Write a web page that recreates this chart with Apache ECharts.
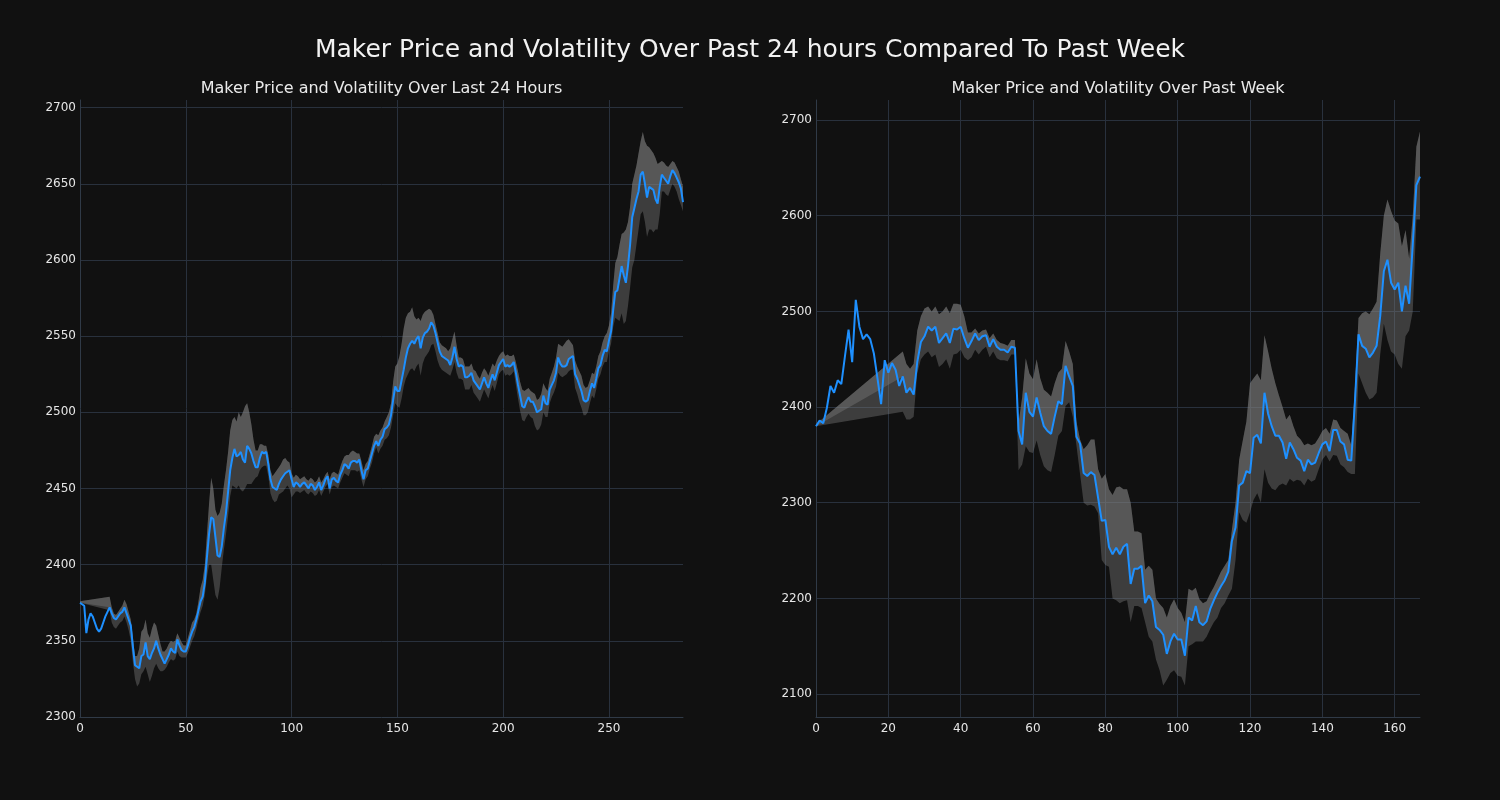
<!DOCTYPE html>
<html>
<head>
<meta charset="utf-8">
<script src="https://cdn.jsdelivr.net/npm/echarts@6/dist/echarts.min.js"></script>
<style>html,body{margin:0;padding:0;background:#111111;}#c{width:1500px;height:800px;}</style>
</head>
<body>
<div id="c"></div>
<script>
const mainTitle = 'Maker Price and Volatility Over Past 24 hours Compared To Past Week';
const dayTitle = 'Maker Price and Volatility Over Last 24 Hours';
const weekTitle = 'Maker Price and Volatility Over Past Week';

const N13 = [null,null,null,null,null,null,null,null,null,null,null,null,null];
const N23 = [null,null,null,null,null,null,null,null,null,null,null,null,null,null,null,null,null,null,null,null,null,null,null];

// Last 24 hours (index of 5-minute step)
const dayPrice = [2375,2374,2373,2355,2364,2368,2366,2362,2358,2356,
2358,2362,2366,2369,2372,2368,2365,2364,2366,2368,
2369,2372,2368,2364,2360,2346,2334,2333,2332,2340,
2341,2349,2340,2338,2342,2345,2350,2345,2341,2338,
2335,2338,2341,2345,2343,2342,2351,2347,2344,2343,
2343,2347,2352,2356,2359,2364,2370,2376,2379,2388,
2405,2420,2431,2430,2418,2406,2405,2412,2424,2434,
2448,2462,2470,2476,2471,2472,2474,2469,2467,2478,
2476,2473,2468,2464,2464,2470,2474,2473,2474,2466,
2456,2451,2450,2449,2453,2456,2458,2460,2461,2462,
2456,2451,2454,2453,2451,2453,2454,2452,2450,2453,
2452,2449,2451,2454,2449,2452,2456,2458,2450,2456,
2457,2455,2454,2459,2462,2466,2465,2463,2467,2468,
2468,2467,2469,2462,2456,2462,2463,2468,2473,2478,
2481,2478,2482,2484,2489,2490,2492,2498,2508,2517,
2514,2514,2521,2528,2536,2542,2545,2547,2545,2548,
2550,2542,2549,2552,2553,2555,2559,2557,2552,2546,
2540,2537,2536,2535,2534,2531,2536,2543,2535,2530,
2531,2530,2523,2523,2524,2526,2521,2519,2517,2515,
2519,2523,2519,2516,2521,2525,2521,2526,2531,2533,
2535,2530,2531,2530,2531,2533,2526,2518,2511,2504,
2503,2507,2510,2507,2507,2504,2500,2501,2502,2511,
2506,2505,2515,2518,2521,2526,2536,2532,2530,2530,
2531,2535,2536,2537,2525,2522,2518,2514,2508,2507,
2508,2514,2519,2516,2522,2529,2531,2537,2541,2540,
2547,2553,2567,2579,2580,2588,2596,2590,2585,2596,
2610,2628,2634,2640,2645,2656,2658,2650,2641,2648,
2647,2646,2640,2637,2648,2656,2654,2652,2650,2655,
2659,2657,2654,2651,2647,2638];

const dayUpper = [2376].concat(N13, [2379,2372,2368,2367,2369,2371,
2373,2377,2374,2369,2364,2352,2340,2340,2345,2356,
2358,2364,2355,2352,2358,2362,2360,2354,2348,2343,
2343,2345,2348,2350,2349,2350,2355,2352,2349,2347,
2347,2352,2357,2362,2364,2368,2376,2385,2390,2400,
2420,2440,2457,2450,2436,2432,2434,2440,2452,2462,
2474,2488,2495,2497,2494,2500,2497,2500,2504,2506,
2500,2492,2482,2475,2475,2479,2479,2478,2478,2472,
2462,2458,2460,2462,2464,2466,2469,2470,2468,2467,
2460,2457,2459,2458,2456,2457,2458,2456,2455,2457,
2456,2454,2455,2458,2454,2456,2459,2461,2456,2460,
2461,2460,2459,2464,2468,2471,2472,2472,2474,2475,
2474,2473,2473,2468,2462,2466,2468,2473,2478,2484,
2486,2485,2488,2490,2494,2497,2500,2506,2520,2530,
2532,2537,2545,2555,2562,2565,2566,2569,2563,2561,
2562,2560,2564,2566,2567,2568,2567,2564,2558,2552,
2546,2544,2543,2542,2540,2542,2548,2553,2544,2536,
2536,2535,2530,2530,2530,2532,2528,2527,2524,2522,
2526,2529,2527,2524,2528,2532,2530,2534,2537,2539,
2540,2537,2538,2537,2537,2538,2533,2527,2520,2515,
2514,2515,2516,2514,2513,2512,2508,2509,2512,2519,
2516,2514,2522,2526,2530,2536,2545,2544,2543,2545,
2547,2548,2546,2544,2534,2530,2527,2524,2518,2516,
2517,2521,2526,2525,2530,2537,2540,2546,2550,2552,
2557,2565,2583,2598,2602,2610,2617,2618,2620,2625,
2635,2650,2656,2662,2670,2678,2684,2678,2675,2674,
2672,2670,2667,2663,2664,2665,2664,2662,2661,2663,
2665,2664,2661,2658,2653,2648]);

const dayLower = [2375].concat(N13, [2370,2362,2359,2358,2360,2362,
2363,2366,2362,2357,2350,2336,2325,2320,2322,2328,
2330,2333,2328,2323,2327,2332,2335,2332,2330,2330,
2331,2333,2336,2338,2337,2338,2343,2340,2339,2339,
2339,2342,2346,2350,2353,2358,2364,2369,2373,2380,
2392,2400,2400,2390,2380,2377,2385,2398,2410,2420,
2432,2445,2452,2451,2450,2452,2449,2448,2450,2453,
2453,2453,2455,2457,2458,2462,2464,2465,2465,2458,
2447,2443,2441,2442,2446,2447,2448,2450,2452,2450,
2444,2446,2448,2448,2447,2448,2449,2447,2446,2448,
2447,2445,2446,2449,2445,2448,2451,2453,2446,2451,
2452,2451,2450,2454,2457,2460,2459,2458,2462,2462,
2462,2461,2462,2456,2451,2456,2458,2463,2467,2473,
2477,2473,2476,2478,2482,2483,2485,2490,2498,2506,
2504,2503,2509,2517,2522,2525,2528,2529,2527,2530,
2532,2524,2532,2536,2538,2540,2544,2545,2540,2534,
2530,2528,2527,2526,2525,2524,2528,2533,2526,2522,
2522,2521,2515,2515,2515,2518,2513,2511,2509,2507,
2511,2515,2512,2509,2514,2518,2514,2519,2525,2527,
2528,2524,2525,2524,2525,2527,2518,2509,2501,2495,
2494,2497,2499,2497,2496,2491,2488,2489,2492,2500,
2497,2497,2506,2510,2513,2517,2526,2524,2523,2524,
2525,2527,2528,2528,2516,2512,2507,2503,2498,2498,
2500,2506,2511,2509,2515,2522,2525,2530,2533,2533,
2540,2545,2556,2562,2561,2560,2565,2558,2560,2570,
2582,2595,2600,2610,2620,2630,2632,2625,2615,2620,
2620,2618,2620,2620,2630,2645,2645,2643,2642,2646,
2650,2648,2645,2640,2636,2632]);

// Past week (hourly index)
const weekPrice = [2380,2386,2383,2399,2422,2415,2428,2424,2453,2481,
2447,2512,2484,2471,2476,2471,2456,2430,2403,2449,
2436,2446,2439,2422,2432,2415,2420,2413,2447,2468,
2474,2484,2480,2484,2467,2472,2477,2467,2482,2481,
2484,2472,2462,2469,2477,2470,2474,2475,2463,2471,
2463,2460,2460,2457,2463,2462,2375,2361,2415,2395,
2390,2410,2394,2380,2375,2372,2390,2406,2403,2443,
2432,2422,2369,2362,2331,2328,2332,2329,2305,2281,
2282,2254,2246,2253,2246,2254,2257,2215,2231,2231,
2234,2195,2203,2197,2170,2167,2162,2142,2155,2163,
2157,2157,2140,2180,2177,2192,2175,2172,2176,2189,
2198,2206,2213,2219,2228,2260,2274,2318,2321,2333,
2331,2368,2371,2362,2415,2393,2380,2370,2370,2363,
2346,2363,2356,2347,2344,2333,2345,2340,2342,2352,
2361,2364,2354,2376,2376,2364,2361,2345,2344,2405,
2476,2464,2461,2452,2457,2464,2495,2542,2554,2530,
2523,2530,2500,2527,2508,2570,2632,2641];

const weekUpper = [2382].concat(N23, [2458,2445,2440,2445,2480,2495,
2503,2505,2500,2505,2497,2500,2505,2498,2508,2508,
2507,2495,2478,2478,2482,2477,2480,2481,2472,2477,
2470,2467,2466,2464,2470,2470,2383,2410,2451,2435,
2429,2450,2430,2418,2415,2411,2425,2436,2440,2469,
2458,2445,2385,2366,2356,2360,2366,2366,2335,2325,
2330,2314,2308,2316,2317,2314,2314,2300,2270,2270,
2268,2230,2234,2230,2200,2194,2190,2180,2192,2199,
2190,2185,2175,2210,2208,2211,2199,2195,2197,2205,
2212,2220,2228,2234,2240,2272,2300,2345,2365,2385,
2425,2430,2435,2428,2475,2458,2440,2425,2412,2400,
2387,2392,2380,2370,2366,2360,2362,2360,2362,2368,
2375,2378,2372,2387,2386,2378,2375,2372,2360,2420,
2493,2498,2500,2497,2503,2510,2560,2600,2617,2605,
2595,2592,2568,2585,2555,2600,2672,2688]);

const weekLower = [2380].concat(N23, [2395,2387,2387,2390,2435,2450,
2455,2458,2452,2455,2442,2445,2450,2440,2455,2456,
2460,2452,2449,2452,2460,2455,2460,2463,2452,2458,
2451,2449,2449,2448,2455,2455,2334,2340,2359,2353,
2352,2365,2350,2338,2334,2332,2350,2370,2375,2401,
2405,2390,2360,2330,2300,2297,2298,2296,2289,2240,
2235,2233,2200,2198,2195,2197,2198,2175,2192,2192,
2190,2175,2160,2155,2136,2125,2109,2115,2122,2125,
2119,2118,2109,2150,2152,2155,2155,2155,2160,2168,
2175,2180,2190,2195,2203,2210,2240,2290,2282,2279,
2290,2303,2310,2300,2335,2321,2315,2313,2318,2320,
2318,2325,2322,2324,2323,2318,2325,2322,2324,2335,
2345,2350,2343,2350,2349,2340,2337,2332,2330,2330,
2435,2425,2415,2408,2410,2415,2455,2487,2470,2458,
2455,2445,2440,2474,2480,2500,2596,2596]);

const FONT = 'DejaVu Sans';
const BG = '#111111';
const GRIDC = '#29313d';
const AXC = '#303a47';
const LABELC = '#e6e6e6';
const BAND = 'rgba(128,128,128,0.4)';
const LINEC = '#1e90ff';

function bandSeries(idx, price, upper, lower) {
  return {
    type: 'custom', xAxisIndex: idx, yAxisIndex: idx, silent: true, z: 1,
    data: [[0, price[0]]],
    encode: { x: 0, y: 1 },
    renderItem: function (params, api) {
      const ids = [];
      for (let i = 0; i < price.length; i++) if (upper[i] != null && lower[i] != null) ids.push(i);
      const a = [], b = [];
      ids.forEach(i => a.push(api.coord([i, upper[i]])));
      for (let k = ids.length - 1; k >= 0; k--) a.push(api.coord([ids[k], lower[ids[k]]]));
      ids.forEach(i => b.push(api.coord([i, upper[i]])));
      for (let k = ids.length - 1; k >= 0; k--) b.push(api.coord([ids[k], price[ids[k]]]));
      return { type: 'group', children: [
        { type: 'polygon', shape: { points: a }, style: { fill: BAND, stroke: null } },
        { type: 'polygon', shape: { points: b }, style: { fill: BAND, stroke: null } }
      ]};
    }
  };
}

function lineSeries(idx, price) {
  return {
    type: 'line', xAxisIndex: idx, yAxisIndex: idx, z: 3,
    data: price.map((v, i) => [i, v]),
    showSymbol: false, symbol: 'none',
    lineStyle: { color: LINEC, width: 2 },
    itemStyle: { color: LINEC }
  };
}

const plain = v => String(Math.round(v));

function xAxis(idx, max, interval) {
  return {
    type: 'value', gridIndex: idx, min: 0, max: max, interval: interval,
    axisLine: { show: true, onZero: false, lineStyle: { color: AXC, width: 1 } },
    axisTick: { show: false },
    axisLabel: { color: LABELC, fontFamily: FONT, fontSize: 12, margin: 6, showMaxLabel: false, formatter: plain },
    splitLine: { show: true, showMinLine: false, showMaxLine: false, lineStyle: { color: GRIDC, width: 1 } }
  };
}

function yAxis(idx, min, max, splitNumber, showMin) {
  return {
    type: 'value', gridIndex: idx, min: min, max: max, splitNumber: splitNumber,
    axisLine: { show: true, onZero: false, lineStyle: { color: AXC, width: 1 } },
    axisTick: { show: false },
    axisLabel: { color: LABELC, fontFamily: FONT, fontSize: 12, margin: 4, showMaxLabel: false, showMinLabel: showMin, formatter: plain },
    splitLine: { show: true, showMinLine: false, showMaxLine: false, lineStyle: { color: GRIDC, width: 1 } }
  };
}

const chart = echarts.init(document.getElementById('c'), null, { renderer: 'canvas' });
chart.setOption({
  backgroundColor: BG,
  animation: false,
  textStyle: { fontFamily: FONT },
  graphic: [
    { type: 'text', x: 750, y: 50, style: { text: mainTitle, textAlign: 'center', textVerticalAlign: 'middle', verticalAlign: 'middle', fill: '#f2f2f2', fontSize: 25, fontFamily: FONT } },
    { type: 'text', x: 381.5, y: 89, style: { text: dayTitle, textAlign: 'center', textVerticalAlign: 'middle', verticalAlign: 'middle', fill: '#eaeaea', fontSize: 16, fontFamily: FONT } },
    { type: 'text', x: 1118, y: 89, style: { text: weekTitle, textAlign: 'center', textVerticalAlign: 'middle', verticalAlign: 'middle', fill: '#eaeaea', fontSize: 16, fontFamily: FONT } }
  ],
  grid: [
    { left: 80, top: 100, width: 603, height: 617 },
    { left: 816, top: 100, width: 604, height: 617 }
  ],
  xAxis: [xAxis(0, 285, 50), xAxis(1, 167, 20)],
  yAxis: [yAxis(0, 2300, 2705, 8, true), yAxis(1, 2076, 2721, 6, false)],
  series: [
    bandSeries(0, dayPrice, dayUpper, dayLower),
    lineSeries(0, dayPrice),
    bandSeries(1, weekPrice, weekUpper, weekLower),
    lineSeries(1, weekPrice)
  ]
});
</script>
</body>
</html>
